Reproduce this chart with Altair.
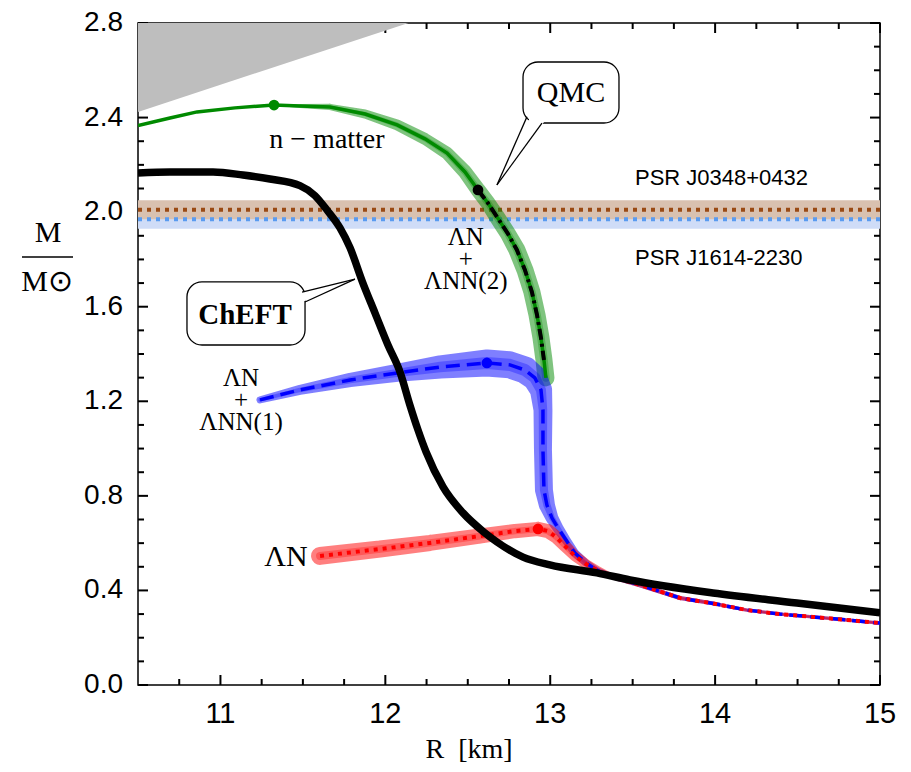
import altair as alt
import pandas as pd

# ---------------- data ----------------
causal_R = [10.5, 12.14]
causal_M = [2.424, 2.8]

cheft_R = [10.5, 10.694, 10.955, 11.137, 11.30, 11.482, 11.573, 11.646, 11.725, 11.786,
           11.864, 11.937, 12.016, 12.089, 12.149, 12.198, 12.247, 12.35, 12.471, 12.592,
           12.677, 12.835, 12.998, 13.283, 13.484, 13.987, 14.496, 15.0]
cheft_M = [2.166, 2.170, 2.170, 2.157, 2.140, 2.112, 2.070, 2.009, 1.933, 1.849,
           1.700, 1.574, 1.438, 1.324, 1.184, 1.079, 0.986, 0.838, 0.728, 0.650,
           0.605, 0.541, 0.508, 0.474, 0.444, 0.389, 0.347, 0.305]

qmc_R = [10.5, 10.694, 10.858, 11.088, 11.325, 11.482, 11.664, 11.877, 12.071, 12.240,
         12.374, 12.483, 12.562, 12.622, 12.677, 12.744, 12.798, 12.847, 12.889, 12.920,
         12.944, 12.962, 12.974]
qmc_M = [2.366, 2.398, 2.424, 2.441, 2.453, 2.449, 2.445, 2.415, 2.369, 2.310,
         2.250, 2.170, 2.094, 2.039, 1.980, 1.908, 1.840, 1.755, 1.662, 1.565,
         1.468, 1.375, 1.299]
qmc_err = [0, 0, 0, 0, 0, 0.008, 0.013, 0.019, 0.023, 0.025,
           0.027, 0.030, 0.032, 0.032, 0.034, 0.034, 0.036, 0.036, 0.036, 0.036,
           0.036, 0.036, 0.036]

nn2_R = [12.562, 12.622, 12.677, 12.744, 12.798, 12.847, 12.889, 12.920, 12.944, 12.962]
nn2_M = [2.094, 2.039, 1.980, 1.908, 1.840, 1.755, 1.662, 1.565, 1.468, 1.375]

nn1_R = [11.240, 11.482, 11.786, 12.071, 12.331, 12.616, 12.756, 12.847, 12.907, 12.944,
         12.956, 12.956, 12.962, 12.980, 13.011, 13.047, 13.096, 13.150, 13.217, 13.283,
         13.381, 13.544, 13.787, 13.987, 14.193, 14.393, 14.593, 14.80, 15.0]
nn1_M = [1.206, 1.248, 1.290, 1.320, 1.345, 1.362, 1.354, 1.332, 1.299, 1.248,
         1.163, 0.994, 0.825, 0.761, 0.706, 0.664, 0.613, 0.558, 0.516, 0.486,
         0.457, 0.423, 0.368, 0.345, 0.317, 0.300, 0.288, 0.275, 0.262]
nn1_err = [0.015, 0.021, 0.030, 0.038, 0.049, 0.057, 0.057, 0.057, 0.053, 0.047,
           0.040, 0.038, 0.038, 0.034, 0.027, 0.023, 0.019, 0.017, 0.015, 0.013,
           0.011, 0.010, 0.009, 0.008, 0.007, 0.007, 0.007, 0.007, 0.007]

ln_R = [11.604, 11.968, 12.271, 12.574, 12.786, 12.926, 12.986, 13.035, 13.089, 13.150,
        13.217, 13.283, 13.381, 13.544, 13.787, 13.987, 14.193, 14.393, 14.593, 14.80, 15.0]
ln_M = [0.546, 0.575, 0.601, 0.630, 0.651, 0.660, 0.651, 0.626, 0.588, 0.546,
        0.512, 0.486, 0.457, 0.423, 0.368, 0.345, 0.317, 0.300, 0.288, 0.275, 0.262]
ln_err = [0.038, 0.036, 0.034, 0.032, 0.030, 0.030, 0.030, 0.027, 0.025, 0.023,
          0.021, 0.019, 0.011, 0.010, 0.009, 0.008, 0.007, 0.007, 0.007, 0.007, 0.007]

dot_R = [11.325, 12.562, 12.616, 12.926]
dot_M = [2.453, 2.094, 1.362, 0.660]
dot_series = ["qmc", "nn2", "nn1", "ln"]

psr_names = ["PSR J0348+0432", "PSR J1614-2230"]
psr_M = [2.01, 1.97]
psr_err = [0.04, 0.04]
psr_label_M = [2.145, 1.806]
psr_label_R = [13.514, 13.514]

x_major = [11, 12, 13, 14, 15]
x_labels = ["11", "12", "13", "14", "15"]
x_minor = [10.75, 11.25, 11.5, 11.75, 12.25, 12.5, 12.75, 13.25, 13.5, 13.75,
           14.25, 14.5, 14.75]
y_major = [0.0, 0.4, 0.8, 1.2, 1.6, 2.0, 2.4, 2.8]
y_labels = ["0.0", "0.4", "0.8", "1.2", "1.6", "2.0", "2.4", "2.8"]
y_minor = [0.1, 0.2, 0.3, 0.5, 0.6, 0.7, 0.9, 1.0, 1.1, 1.3, 1.4, 1.5, 1.7, 1.8, 1.9,
           2.1, 2.2, 2.3, 2.5, 2.6, 2.7]

labels_text = ["n \u2212 matter", "\u039bN\n+\n\u039bNN(2)", "\u039bN\n+\n\u039bNN(1)", "\u039bN"]
labels_R = [11.646, 12.488, 11.125, 11.397]
labels_M = [2.305, 1.895, 1.299, 0.541]
labels_size = [28, 25, 25, 30]

# callouts: box corners, text position, pointer base points and tip
call_text = ["QMC", "ChEFT"]
call_R1 = [12.835, 10.797]
call_R2 = [13.417, 11.513]
call_M1 = [2.377, 1.438]
call_M2 = [2.635, 1.705]
call_tR = [13.126, 11.149]
call_tM = [2.504, 1.565]
call_aR = [12.859, 11.495]
call_aM = [2.403, 1.662]
call_bR = [12.950, 11.513]
call_bM = [2.377, 1.620]
call_pR = [12.677, 11.816]
call_pM = [2.115, 1.717]

# ---------------- layout ----------------
W, H = 742, 662

xs = alt.Scale(domain=[10.5, 15], nice=False, zero=False)
ys = alt.Scale(domain=[0, 2.8], nice=False, zero=False)


def X(f="R"):
    return alt.X(f"{f}:Q", scale=xs, axis=None)


def Y(f="M"):
    return alt.Y(f"{f}:Q", scale=ys, axis=None)


def curve(R, M, err=None):
    d = {"R": R, "M": M, "i": list(range(len(R)))}
    if err is not None:
        d["w"] = err
    return pd.DataFrame(d)


PXM = H / 2.8
size_outer = alt.Scale(domain=[0, 0.1], range=[0, 0.2 * PXM])
size_inner = alt.Scale(domain=[0, 0.1], range=[0, 0.09 * PXM])

layers = []

# inward ticks on all four sides (drawn first, on the frame)
for vals, L in [(x_major, 10), (x_minor, 6)]:
    tdf = pd.DataFrame({"tv": vals})
    layers.append(alt.Chart(tdf).mark_rule(color="black", strokeWidth=2).encode(
        x=X("tv"), y=alt.value(H), y2=alt.value(H - L)))
    layers.append(alt.Chart(tdf).mark_rule(color="black", strokeWidth=2).encode(
        x=X("tv"), y=alt.value(0), y2=alt.value(L)))
for vals, L in [(y_major, 10), (y_minor, 6)]:
    tdf = pd.DataFrame({"tv": vals})
    layers.append(alt.Chart(tdf).mark_rule(color="black", strokeWidth=2).encode(
        y=Y("tv"), x=alt.value(0), x2=alt.value(L)))
    layers.append(alt.Chart(tdf).mark_rule(color="black", strokeWidth=2).encode(
        y=Y("tv"), x=alt.value(W), x2=alt.value(W - L)))

# causality region
cdf = pd.DataFrame({"R": causal_R, "M": causal_M, "top": [2.8] * len(causal_R)})
layers.append(alt.Chart(cdf).mark_area(color="#bebebe", clip=True).encode(
    x=X(), y=Y(), y2=alt.Y2("top")))

# pulsar bands
pdf = pd.DataFrame({"name": psr_names, "M": psr_M, "err": psr_err})
pdf["lo"] = pdf["M"] - pdf["err"]
pdf["hi"] = pdf["M"] + pdf["err"]
band_cols = ["#d9c1b0", "#cfdcf7"]
dot_cols = ["#9a4a14", "#5a9bf0"]
for k in [1, 0]:
    layers.append(alt.Chart(pdf.iloc[[k]]).mark_rect(color=band_cols[k]).encode(
        x=alt.value(0), x2=alt.value(W), y=Y("lo"), y2=alt.Y2("hi")))
for k in [0, 1]:
    layers.append(alt.Chart(pdf.iloc[[k]]).mark_rule(
        color=dot_cols[k], strokeWidth=4, strokeDash=[4, 5]).encode(y=Y("M")))

# uncertainty bands
qdf = curve(qmc_R, qmc_M, qmc_err)
bdf = curve(nn1_R, nn1_M, nn1_err)
rdf = curve(ln_R, ln_M, ln_err)
for df, col in [(qdf, "#008a00"), (bdf, "#0000ff"), (rdf, "#ff0000")]:
    layers.append(alt.Chart(df).mark_trail(color=col, opacity=0.5, clip=True).encode(
        x=X(), y=Y(), order="i:Q", size=alt.Size("w:Q", scale=size_outer, legend=None)))
    layers.append(alt.Chart(df).mark_trail(color=col, opacity=0.3, clip=True).encode(
        x=X(), y=Y(), order="i:Q", size=alt.Size("w:Q", scale=size_inner, legend=None)))

# central lines
layers.append(alt.Chart(qdf).mark_line(color="#008a00", strokeWidth=3.5, clip=True).encode(
    x=X(), y=Y(), order="i:Q"))
layers.append(alt.Chart(curve(nn2_R, nn2_M)).mark_line(
    color="black", strokeWidth=4, strokeDash=[11, 4, 3, 4], clip=True).encode(
    x=X(), y=Y(), order="i:Q"))
layers.append(alt.Chart(bdf).mark_line(
    color="#0000ff", strokeWidth=3.5, strokeDash=[14, 7], clip=True).encode(
    x=X(), y=Y(), order="i:Q"))
layers.append(alt.Chart(rdf).mark_line(
    color="#ff0000", strokeWidth=4, strokeDash=[4, 5], clip=True).encode(
    x=X(), y=Y(), order="i:Q"))
layers.append(alt.Chart(curve(cheft_R, cheft_M)).mark_line(
    color="black", strokeWidth=7.5, clip=True, interpolate="monotone").encode(
    x=X(), y=Y(), order="i:Q"))

# maximum-mass dots
ddf = pd.DataFrame({"R": dot_R, "M": dot_M, "s": dot_series})
layers.append(alt.Chart(ddf).mark_circle(size=115, opacity=1).encode(
    x=X(), y=Y(),
    color=alt.Color("s:N", scale=alt.Scale(domain=["qmc", "nn2", "nn1", "ln"],
                                           range=["#008a00", "black", "#0000ff", "#ff0000"]),
                    legend=None)))

# curve labels
for t, r, m, fs in zip(labels_text, labels_R, labels_M, labels_size):
    ldf = pd.DataFrame({"R": [r], "M": [m], "t": [t]})
    layers.append(alt.Chart(ldf).mark_text(
        font="Liberation Serif", fontSize=fs, lineBreak="\n", lineHeight=22,
        align="center", baseline="middle", color="black").encode(x=X(), y=Y(), text="t:N"))

# pulsar labels
pl = pd.DataFrame({"R": psr_label_R, "M": psr_label_M, "t": psr_names})
layers.append(alt.Chart(pl).mark_text(
    font="Liberation Sans", fontSize=22, align="left", baseline="middle", color="black").encode(
    x=X(), y=Y(), text="t:N"))

# callouts
cdf2 = pd.DataFrame({"t": call_text, "R1": call_R1, "R2": call_R2, "M1": call_M1, "M2": call_M2,
                     "tR": call_tR, "tM": call_tM})
layers.append(alt.Chart(cdf2).mark_rect(
    fill="white", stroke="black", strokeWidth=1.3, cornerRadius=15).encode(
    x=X("R1"), x2=alt.X2("R2"), y=Y("M1"), y2=alt.Y2("M2")))
tri_rows = []
side_rows = []
for k in range(len(call_text)):
    cR = (call_R1[k] + call_R2[k]) / 2
    cM = (call_M1[k] + call_M2[k]) / 2
    aR_in = call_aR[k] + 0.12 * (cR - call_aR[k])
    aM_in = call_aM[k] + 0.12 * (cM - call_aM[k])
    bR_in = call_bR[k] + 0.12 * (cR - call_bR[k])
    bM_in = call_bM[k] + 0.12 * (cM - call_bM[k])
    for j, (r, m) in enumerate([(aR_in, aM_in), (bR_in, bM_in), (call_pR[k], call_pM[k])]):
        tri_rows.append({"g": k, "i": j, "R": r, "M": m})
    side_rows += [{"g": f"{k}a", "i": 0, "R": call_aR[k], "M": call_aM[k]},
                  {"g": f"{k}a", "i": 1, "R": call_pR[k], "M": call_pM[k]},
                  {"g": f"{k}b", "i": 0, "R": call_bR[k], "M": call_bM[k]},
                  {"g": f"{k}b", "i": 1, "R": call_pR[k], "M": call_pM[k]}]
layers.append(alt.Chart(pd.DataFrame(tri_rows)).mark_line(
    interpolate="linear-closed", fill="white", stroke="white", strokeWidth=1).encode(
    x=X(), y=Y(), order="i:Q", detail="g:N"))
layers.append(alt.Chart(pd.DataFrame(side_rows)).mark_line(
    color="black", strokeWidth=1.3).encode(x=X(), y=Y(), order="i:Q", detail="g:N"))
layers.append(alt.Chart(cdf2.iloc[[0]]).mark_text(
    font="Liberation Serif", fontSize=30, align="center", baseline="middle", color="black").encode(
    x=X("tR"), y=Y("tM"), text="t:N"))
layers.append(alt.Chart(cdf2.iloc[[1]]).mark_text(
    font="Liberation Serif", fontSize=29, fontWeight="bold", align="center", baseline="middle",
    color="black").encode(x=X("tR"), y=Y("tM"), text="t:N"))

# tick labels
xl = pd.DataFrame({"tv": x_major, "lab": x_labels})
layers.append(alt.Chart(xl).mark_text(
    font="Liberation Sans", fontSize=29, align="center", baseline="top", color="black").encode(
    x=X("tv"), y=alt.value(H + 15), text="lab:N"))
yl = pd.DataFrame({"tv": y_major, "lab": y_labels})
layers.append(alt.Chart(yl).mark_text(
    font="Liberation Sans", fontSize=28, align="right", baseline="middle", color="black").encode(
    y=Y("tv"), x=alt.value(-15), text="lab:N"))

# axis titles
one = pd.DataFrame({"a": [0]})
layers.append(alt.Chart(one).mark_text(
    text="R\u2002[km]", font="Liberation Serif", fontSize=28, align="center", baseline="middle",
    color="black").encode(x=alt.value(331), y=alt.value(727)))
layers.append(alt.Chart(one).mark_text(
    text="M", font="Liberation Serif", fontSize=30, align="center", baseline="middle",
    color="black").encode(x=alt.value(-90), y=alt.value(210)))
layers.append(alt.Chart(one).mark_rule(color="black", strokeWidth=1.5).encode(
    x=alt.value(-116), x2=alt.value(-65), y=alt.value(234)))
layers.append(alt.Chart(one).mark_text(
    text="M\u2299", font="Liberation Serif", fontSize=30, align="center", baseline="middle",
    color="black").encode(x=alt.value(-91), y=alt.value(259)))

chart = alt.layer(*layers).properties(
    width=W, height=H,
    padding={"left": 130, "top": 15, "right": 23, "bottom": 79},
    autosize=alt.AutoSizeParams(type="none"),
).configure_view(stroke="black", strokeWidth=1.5).resolve_scale(size="independent")

chart.save("out.html", embed_options={"renderer": "svg", "actions": False})
